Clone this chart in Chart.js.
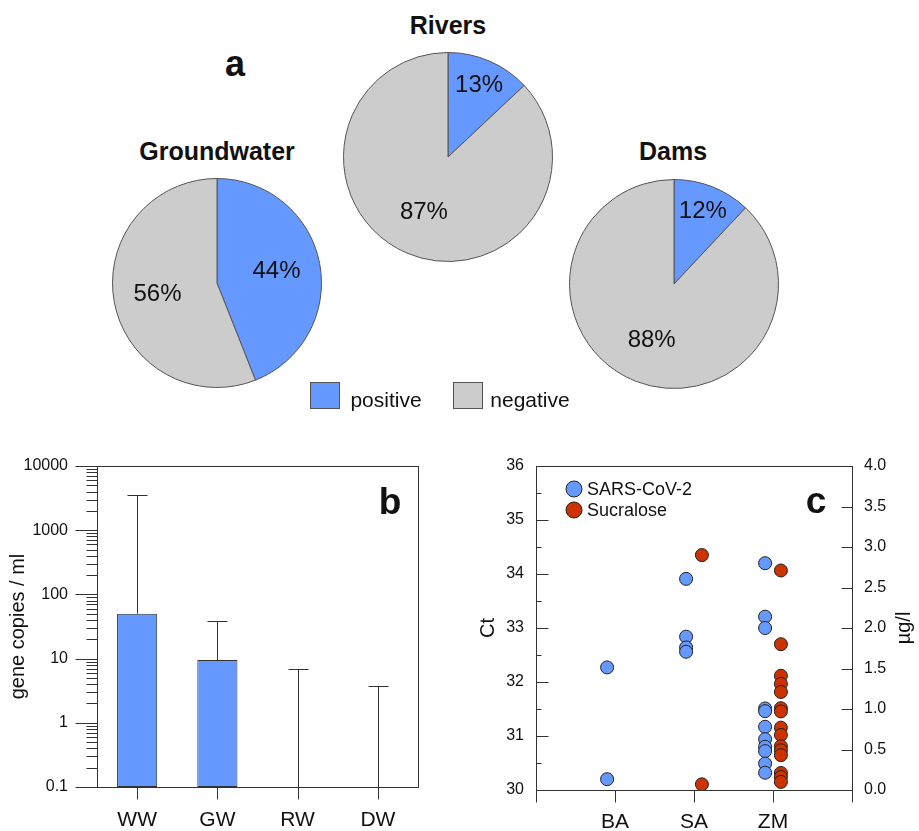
<!DOCTYPE html>
<html><head><meta charset="utf-8">
<script src="https://cdn.jsdelivr.net/npm/chart.js@4.4.1/dist/chart.umd.min.js"></script>
<style>
body{margin:0;background:#fff;width:919px;height:831px;position:relative;overflow:hidden;font-family:"Liberation Sans",Arial,sans-serif;color:#111}
canvas{position:absolute}
.t{position:absolute;white-space:nowrap;line-height:1;transform:translate(-50%,-50%)}
.sw{position:absolute;width:28px;height:25px;border:1px solid #555}
</style></head><body>
<div class="t" style="left:235px;top:64px;font-size:36px;font-weight:bold">a</div>
<div class="t" id="tGW" style="left:217px;top:151px;font-size:25px;font-weight:bold"></div>
<div class="t" id="tRV" style="left:448px;top:25px;font-size:25px;font-weight:bold"></div>
<div class="t" id="tDM" style="left:673px;top:151px;font-size:25px;font-weight:bold"></div>
<canvas id="pGW" width="220" height="220" style="left:107px;top:173px"></canvas>
<canvas id="pRV" width="220" height="220" style="left:338px;top:47px"></canvas>
<canvas id="pDM" width="220" height="220" style="left:564px;top:174px"></canvas>
<div class="sw" id="sw0" style="left:310px;top:382px"></div>
<div class="t" id="lg0" style="left:386px;top:399px;font-size:21px"></div>
<div class="sw" id="sw1" style="left:453px;top:382px"></div>
<div class="t" id="lg1" style="left:530px;top:399px;font-size:21px"></div>
<canvas id="cB" width="440" height="391" style="left:0;top:440px"></canvas>
<canvas id="cC" width="449" height="391" style="left:470px;top:440px"></canvas>
<script>
// ---------- data ----------
const pieTitles = ['Groundwater', 'Rivers', 'Dams'];
const pieCategories = ['positive', 'negative'];
const gwShares = [44, 56];
const riverShares = [13, 87];
const damShares = [12, 88];

const sampleTypes = ['WW', 'GW', 'RW', 'DW'];
const meanCopies = [50, 9.5, null, null];
const upperCopies = [3500, 38.5, 7.0, 3.8];
const logTicks = [0.1, 1, 10, 100, 1000, 10000];

const sites = ['BA', 'SA', 'ZM'];
const ctBA = [32.27, 30.20];
const ctSA = [33.91, 32.84, 32.64, 32.56];
const ctZM = [34.20, 33.21, 33.00, 31.51, 31.46, 31.17, 30.94, 30.80, 30.72, 30.49, 30.32];
const sucBA = [];
const sucSA = [2.90, 0.07];
const sucZM = [2.71, 1.80, 1.41, 1.31, 1.21, 1.01, 0.97, 0.77, 0.68, 0.54, 0.49, 0.43, 0.21, 0.16, 0.10];
const ctTicks = [30, 31, 32, 33, 34, 35, 36];
const ugTicks = [0, 0.5, 1, 1.5, 2, 2.5, 3, 3.5, 4];

// ---------- style ----------
const BLUE = '#6699FF', GRAY = '#CCCCCC', RED = '#CC3300', INK = '#111', LINE = '#333';
const FAM = '"Liberation Sans", Arial, sans-serif';
Chart.defaults.font.family = FAM;
Chart.defaults.color = INK;
Chart.defaults.animation = false;
Chart.defaults.plugins.legend.display = false;
Chart.defaults.plugins.tooltip.enabled = false;

document.getElementById('tGW').textContent = pieTitles[0];
document.getElementById('tRV').textContent = pieTitles[1];
document.getElementById('tDM').textContent = pieTitles[2];
document.getElementById('lg0').textContent = pieCategories[0];
document.getElementById('lg1').textContent = pieCategories[1];
document.getElementById('sw0').style.background = BLUE;
document.getElementById('sw1').style.background = GRAY;

// ---------- pies ----------
const pctLabels = {
  id: 'pctLabels',
  afterDatasetsDraw(chart) {
    const meta = chart.getDatasetMeta(0);
    const data = chart.data.datasets[0].data;
    const total = data.reduce((a, b) => a + b, 0);
    const ctx = chart.ctx;
    ctx.save();
    ctx.font = '24px ' + FAM;
    ctx.fillStyle = INK; ctx.textAlign = 'center'; ctx.textBaseline = 'middle';
    meta.data.forEach((arc, i) => {
      const p = arc.getProps(['x', 'y', 'startAngle', 'endAngle', 'outerRadius'], true);
      const mid = (p.startAngle + p.endAngle) / 2;
      const share = data[i] / total;
      const f = share < 0.2 ? 0.75 : 0.58;
      ctx.fillText(Math.round(share * 100) + '%', p.x + Math.cos(mid) * p.outerRadius * f, p.y + Math.sin(mid) * p.outerRadius * f);
    });
    ctx.restore();
  }
};
function makePie(id, shares) {
  new Chart(document.getElementById(id), {
    type: 'pie',
    data: { labels: pieCategories, datasets: [{ data: shares, backgroundColor: [BLUE, GRAY], borderColor: '#555', borderWidth: 1 }] },
    options: { responsive: false, layout: { padding: 5 } },
    plugins: [pctLabels]
  });
}
makePie('pGW', gwShares);
makePie('pRV', riverShares);
makePie('pDM', damShares);

function seg(ctx, x1, y1, x2, y2) { ctx.beginPath(); ctx.moveTo(x1, y1); ctx.lineTo(x2, y2); ctx.stroke(); }

// ---------- panel b ----------
const decorB = {
  id: 'decorB',
  afterDatasetsDraw(chart) {
    const { ctx, chartArea: a, scales: { x, y } } = chart;
    ctx.save();
    ctx.strokeStyle = LINE; ctx.lineWidth = 1;
    const meta = chart.getDatasetMeta(0);
    upperCopies.forEach((u, i) => {
      const px = Math.round(meta.data[i].x) + 0.5;
      const from = meanCopies[i] != null ? y.getPixelForValue(meanCopies[i]) : a.bottom;
      const to = Math.round(y.getPixelForValue(u)) + 0.5;
      seg(ctx, px, from, px, to);
      seg(ctx, px - 10, to, px + 10, to);
    });
    const L = Math.round(a.left) + 0.5, R = Math.round(a.right) + 0.5, T = Math.round(a.top) + 0.5, B = Math.round(a.bottom) + 0.5;
    ctx.strokeRect(L, T, R - L, B - T);
    for (let d = 0; d < logTicks.length; d++) {
      const v = logTicks[d];
      const py = Math.round(y.getPixelForValue(v)) + 0.5;
      seg(ctx, L - 22, py, L, py);
      if (d < logTicks.length - 1) {
        for (let k = 2; k <= 9; k++) {
          const q = Math.round(y.getPixelForValue(v * k)) + 0.5;
          seg(ctx, L - 11, q, L, q);
        }
      }
    }
    sampleTypes.forEach((s, i) => {
      const px = Math.round(x.getPixelForValue(i)) + 0.5;
      seg(ctx, px, B, px, B + 12);
    });
    ctx.fillStyle = INK; ctx.font = 'bold 37px ' + FAM; ctx.textAlign = 'center'; ctx.textBaseline = 'alphabetic';
    ctx.fillText('b', 390, 74);
    ctx.restore();
  }
};
new Chart(document.getElementById('cB'), {
  type: 'bar',
  data: { labels: sampleTypes, datasets: [{ data: meanCopies, backgroundColor: BLUE, borderColor: LINE, borderWidth: 1, borderSkipped: false, barPercentage: 0.5, categoryPercentage: 1 }] },
  options: {
    responsive: false,
    layout: { padding: { top: 26, right: 22, left: 0, bottom: 0 } },
    scales: {
      x: { type: 'category', offset: true, grid: { display: false, drawTicks: false }, border: { display: false },
           ticks: { padding: 21, font: { size: 21 }, color: INK }, afterFit: s => { s.height = 44; } },
      y: { type: 'logarithmic', min: 0.1, max: 10000,
           afterBuildTicks: s => { s.ticks = logTicks.map(v => ({ value: v })); },
           grid: { display: false, drawTicks: false }, border: { display: false },
           ticks: { padding: 29, font: { size: 16 }, color: INK, callback: v => String(v) },
           title: { display: true, text: 'gene copies / ml', font: { size: 20 }, color: INK, padding: { top: 6, bottom: 0 } },
           afterFit: s => { s.width = 97; s.paddingTop = 10; s.paddingBottom = 10; } }
    }
  },
  plugins: [decorB]
});

// ---------- panel c ----------
function pts(groups, dx) {
  const out = [];
  groups.forEach((g, i) => g.forEach(v => out.push({ x: i + 1 + dx, y: v })));
  return out;
}
const decorC = {
  id: 'decorC',
  afterDatasetsDraw(chart) {
    const { ctx, chartArea: a, scales: { x, y, y2 } } = chart;
    ctx.save();
    ctx.strokeStyle = LINE; ctx.lineWidth = 1;
    const L = Math.round(a.left) + 0.5, R = Math.round(a.right) + 0.5, T = Math.round(a.top) + 0.5, B = Math.round(a.bottom) + 0.5;
    ctx.strokeRect(L, T, R - L, B - T);
    for (let v = ctTicks[0]; v <= ctTicks[ctTicks.length - 1]; v += 0.5) {
      const py = Math.round(y.getPixelForValue(v)) + 0.5;
      seg(ctx, L, py, L + (Number.isInteger(v) ? 12 : 5), py);
    }
    ugTicks.forEach(v => {
      const py = Math.round(y2.getPixelForValue(v)) + 0.5;
      seg(ctx, R - 11, py, R, py);
    });
    for (let v = 0; v <= sites.length + 1; v++) {
      const px = Math.round(x.getPixelForValue(v)) + 0.5;
      seg(ctx, px, B, px, B + 12);
    }
    // legend
    ctx.font = '18px ' + FAM; ctx.textBaseline = 'middle'; ctx.textAlign = 'left';
    [[BLUE, 'SARS-CoV-2'], [RED, 'Sucralose']].forEach((it, i) => {
      const cx = a.left + 38, cy = a.top + 23 + i * 21;
      ctx.beginPath(); ctx.arc(cx, cy, 8, 0, Math.PI * 2);
      ctx.fillStyle = it[0]; ctx.fill(); ctx.strokeStyle = '#222'; ctx.stroke();
      ctx.fillStyle = INK; ctx.fillText(it[1], cx + 13, cy + 1);
    });
    // letter
    ctx.font = 'bold 37px ' + FAM; ctx.textAlign = 'center'; ctx.textBaseline = 'alphabetic';
    ctx.fillText('c', 346, 73);
    // right title
    ctx.save();
    ctx.translate(440, (a.top + a.bottom) / 2);
    ctx.rotate(-Math.PI / 2);
    ctx.font = '20px ' + FAM; ctx.textAlign = 'center'; ctx.textBaseline = 'alphabetic';
    ctx.fillText('\u00B5g/l', 0, 0);
    ctx.restore();
    ctx.restore();
  }
};
new Chart(document.getElementById('cC'), {
  type: 'scatter',
  data: { datasets: [
    { label: 'SARS-CoV-2', data: pts([ctBA, ctSA, ctZM], -0.1), yAxisID: 'y', backgroundColor: BLUE, borderColor: '#222', pointRadius: 6.5, pointBorderWidth: 1 },
    { label: 'Sucralose', data: pts([sucBA, sucSA, sucZM], 0.1), yAxisID: 'y2', backgroundColor: RED, borderColor: '#222', pointRadius: 6.5, pointBorderWidth: 1 }
  ] },
  options: {
    responsive: false,
    layout: { padding: { top: 26, right: 0, left: 0, bottom: 0 } },
    scales: {
      x: { type: 'linear', min: 0, max: sites.length + 1,
           afterBuildTicks: s => { s.ticks = [0, 1, 2, 3, 4].map(v => ({ value: v })); },
           grid: { display: false, drawTicks: false }, border: { display: false },
           ticks: { padding: 20, font: { size: 21 }, color: INK, callback: v => sites[v - 1] || '' },
           afterFit: s => { s.height = 41; } },
      y: { type: 'linear', position: 'left', min: 30, max: 36,
           afterBuildTicks: s => { s.ticks = ctTicks.map(v => ({ value: v })); },
           grid: { display: false, drawTicks: false }, border: { display: false },
           ticks: { padding: 12, font: { size: 16 }, color: INK },
           title: { display: true, text: 'Ct', font: { size: 20 }, color: INK, padding: { top: 6, bottom: 0 } },
           afterFit: s => { s.width = 66; } },
      y2: { type: 'linear', position: 'right', min: 0, max: 4,
           afterBuildTicks: s => { s.ticks = ugTicks.map(v => ({ value: v })); },
           grid: { display: false, drawTicks: false }, border: { display: false },
           ticks: { padding: 12, font: { size: 16 }, color: INK, callback: v => v.toFixed(1) },
           afterFit: s => { s.width = 67; } }
    }
  },
  plugins: [decorC]
});
</script>
</body></html>
